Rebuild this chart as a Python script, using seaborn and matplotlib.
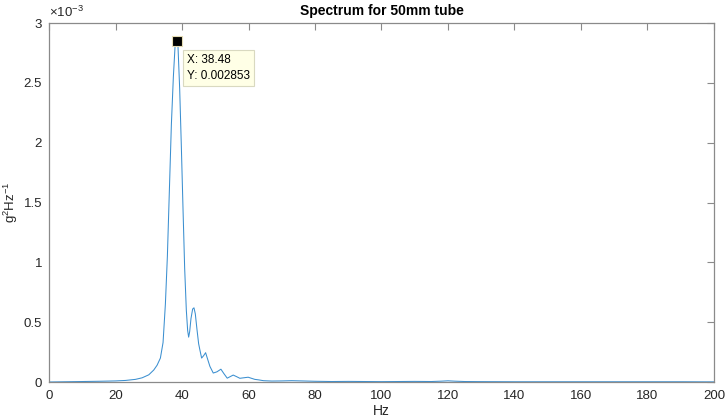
import matplotlib
matplotlib.use("Agg")
import matplotlib.pyplot as plt
import seaborn as sns
import pandas as pd
from matplotlib.ticker import FuncFormatter, MultipleLocator

# ---- data ----
hz = [0, 5, 10, 15, 20, 23, 26, 28, 30, 31.5, 32.5, 33.5, 34.3, 35.0, 35.6,
      36.2, 36.8, 37.4, 37.9, 38.48, 38.8, 39.3, 39.8, 40.3, 40.8, 41.3, 41.7,
      42.0, 42.3, 42.7, 43.2, 43.6, 44.0, 44.5, 45.0, 45.4, 45.9, 46.5, 47.1,
      47.6, 48.4, 49.4, 50.5, 51.7, 52.6, 53.6, 54.5, 55.4, 56.4, 57.4, 58.5,
      59.9, 61.0, 61.9, 63.0, 64.5, 67, 70, 73, 76, 80, 85, 90, 95, 100, 105,
      110, 115, 118, 120, 122, 125, 130, 140, 150, 160, 170, 180, 190, 200]
psd_e3 = [0.0, 0.002, 0.004, 0.006, 0.009, 0.013, 0.022, 0.035, 0.06, 0.10,
          0.14, 0.20, 0.33, 0.65, 1.05, 1.6, 2.15, 2.55, 2.80, 2.853, 2.80,
          2.45, 1.97, 1.45, 0.95, 0.6, 0.43, 0.375, 0.42, 0.53, 0.61, 0.62,
          0.57, 0.44, 0.32, 0.265, 0.20, 0.22, 0.245, 0.20, 0.13, 0.075,
          0.085, 0.107, 0.07, 0.032, 0.045, 0.058, 0.045, 0.031, 0.035, 0.04,
          0.03, 0.022, 0.018, 0.011, 0.008, 0.009, 0.011, 0.009, 0.006, 0.004,
          0.005, 0.004, 0.003, 0.004, 0.005, 0.004, 0.007, 0.010, 0.007,
          0.004, 0.003, 0.002, 0.002, 0.002, 0.002, 0.002, 0.002, 0.001]
peak_x = 38.48
peak_y = 0.002853
title = "Spectrum for 50mm tube"
xlabel = "Hz"
ylabel = r"$\mathregular{g^2Hz^{-1}}$"

df = pd.DataFrame({"Hz": hz, "PSD": [v * 1e-3 for v in psd_e3]})

sns.set_style("white")
plt.rcParams['font.family'] = ['Liberation Sans', 'DejaVu Sans']
plt.rcParams['mathtext.fontset'] = 'custom'
plt.rcParams['mathtext.rm'] = 'Liberation Sans'
plt.rcParams['mathtext.it'] = 'Liberation Sans'

txt = '#262626'
edge = '#8a8a8a'

fig = plt.figure(figsize=(7.25, 4.19), dpi=100)
ax = fig.add_axes([0.0676, 0.0883, 0.9172, 0.8567])

sns.lineplot(data=df, x="Hz", y="PSD", ax=ax, color='#3b8fd0', linewidth=0.75)

ax.set_xlim(0, 200)
ax.set_ylim(0, 0.003)
ax.xaxis.set_major_locator(MultipleLocator(20))
ax.yaxis.set_major_locator(MultipleLocator(0.0005))
ax.yaxis.set_major_formatter(FuncFormatter(lambda v, p: f"{v*1e3:g}"))

for s in ax.spines.values():
    s.set_visible(True)
    s.set_color(edge)
    s.set_linewidth(0.9)

ax.tick_params(axis='both', which='major', direction='in', length=5, width=0.8,
               color=edge, labelcolor=txt, labelsize=9.5, top=True, right=True)
ax.tick_params(axis='x', pad=6)
ax.tick_params(axis='y', pad=5)

ax.set_xlabel(xlabel, fontsize=10, color=txt, labelpad=1.5)
ax.set_ylabel(ylabel, fontsize=9.5, color=txt)
ax.yaxis.set_label_coords(-0.043, 0.5)
ax.set_title(title, fontsize=10, fontweight='bold', color='#000000', pad=6)

ax.text(0.0, 1.008, r"$\mathregular{\times10^{-3}}$", transform=ax.transAxes,
        ha='left', va='bottom', fontsize=9.5, color=txt)

# data tip
ax.plot([peak_x], [peak_y], marker='s', markersize=6.5, color='black',
        markeredgecolor='#e6ddb5', markeredgewidth=0.8, linestyle='none')
ax.annotate(f"X: {peak_x}\nY: {peak_y}", xy=(peak_x, peak_y),
            xytext=(10, -13), textcoords='offset pixels', ha='left', va='top',
            fontsize=8.5, color='black', linespacing=1.45,
            bbox=dict(boxstyle='square,pad=0.33', fc='#ffffe6', ec='#d9d9c0',
                      lw=0.8))

ax.set_facecolor('white')
fig.patch.set_facecolor('white')
fig.savefig("out.png", dpi=100, facecolor='white')
